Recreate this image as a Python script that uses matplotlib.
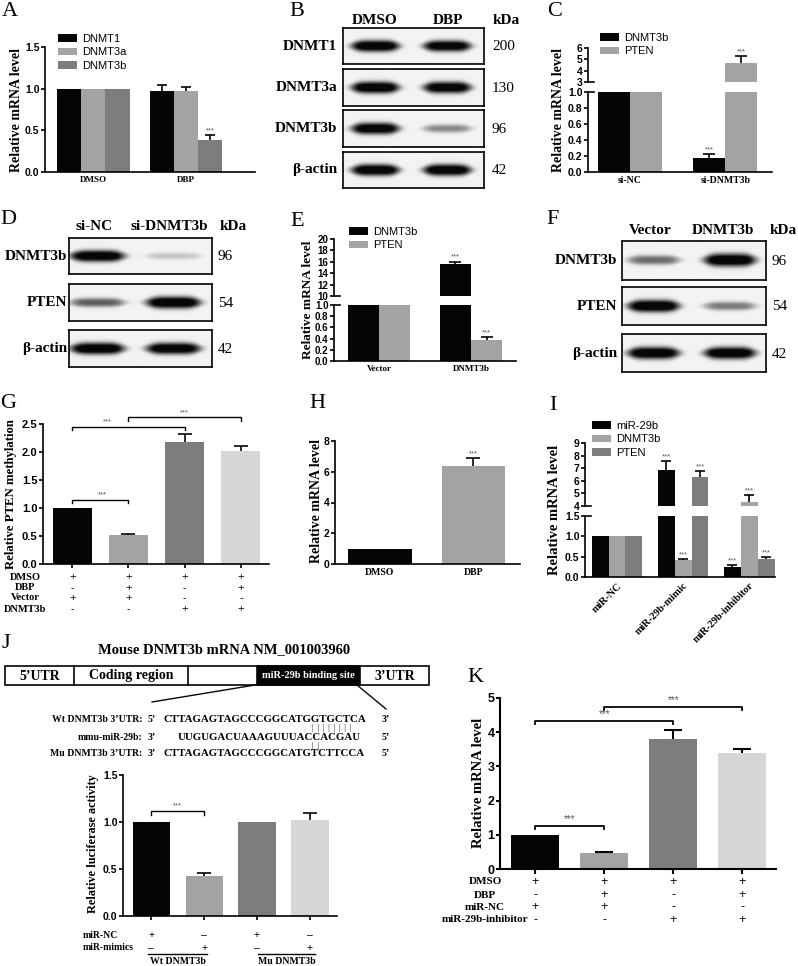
import numpy as np
import matplotlib
matplotlib.use("Agg")
import matplotlib.pyplot as plt
from matplotlib.ticker import FormatStrFormatter
from matplotlib.patches import Rectangle

SERIF = "Liberation Serif"
SANS = "Liberation Sans"
plt.rcParams["font.family"] = SANS
plt.rcParams["font.weight"] = "bold"

BLACK = "#050505"
LIGHT = "#a3a3a3"
DARK = "#7d7d7d"
PALE = "#d6d6d6"

# A - DNMT mRNA after DBP
A_groups = ["DMSO", "DBP"]
A_series = ["DNMT1", "DNMT3a", "DNMT3b"]
A_dnmt1 = [1.0, 0.97]
A_dnmt1_err = [0, 0.07]
A_dnmt3a = [1.0, 0.97]
A_dnmt3a_err = [0, 0.05]
A_dnmt3b = [1.0, 0.39]
A_dnmt3b_err = [0, 0.05]
A_dnmt3b_sig = ["", "***"]

# B - western blot, band strength per lane
B_lanes = ["DMSO", "DBP"]
B_proteins = ["DNMT1", "DNMT3a", "DNMT3b", "β-actin"]
B_kda = [200, 130, 96, 42]
B_dmso = [0.95, 0.95, 0.92, 0.95]
B_dbp = [0.9, 0.92, 0.35, 0.95]

# C - si-DNMT3b
C_groups = ["si-NC", "si-DNMT3b"]
C_series = ["DNMT3b", "PTEN"]
C_dnmt3b = [1.0, 0.17]
C_dnmt3b_err = [0, 0.05]
C_dnmt3b_sig = ["", "***"]
C_pten = [1.0, 4.7]
C_pten_err = [0, 0.6]
C_pten_sig = ["", "***"]

# D - western blot
D_lanes = ["si-NC", "si-DNMT3b"]
D_proteins = ["DNMT3b", "PTEN", "β-actin"]
D_kda = [96, 54, 42]
D_nc = [0.95, 0.5, 0.95]
D_si = [0.15, 0.97, 0.93]

# E - DNMT3b overexpression
E_groups = ["Vector", "DNMT3b"]
E_series = ["DNMT3b", "PTEN"]
E_dnmt3b = [1.0, 15.6]
E_dnmt3b_err = [0, 0.45]
E_dnmt3b_sig = ["", "***"]
E_pten = [1.0, 0.37]
E_pten_err = [0, 0.06]
E_pten_sig = ["", "***"]

# F - western blot
F_lanes = ["Vector", "DNMT3b"]
F_proteins = ["DNMT3b", "PTEN", "β-actin"]
F_kda = [96, 54, 42]
F_vec = [0.45, 0.97, 0.95]
F_dn = [0.97, 0.4, 0.95]

# G - PTEN methylation
G_vals = [1.0, 0.51, 2.17, 2.02]
G_err = [0, 0.03, 0.15, 0.08]
G_rows = ["DMSO", "DBP", "Vector", "DNMT3b"]
G_dmso = ["+", "+", "+", "+"]
G_dbp = ["-", "+", "-", "+"]
G_vector = ["+", "+", "-", "-"]
G_dnmt3b = ["-", "-", "+", "+"]
G_pairs = [(0, 1), (0, 2), (1, 3)]
G_pair_y = [1.15, 2.45, 2.62]
G_star_x = [0.53, 0.62, 2.0]

# H - miR-29b after DBP
H_groups = ["DMSO", "DBP"]
H_vals = [1.0, 6.35]
H_err = [0, 0.55]
H_sig = ["", "***"]

# I - mimic / inhibitor
I_groups = ["miR-NC", "miR-29b-mimic", "miR-29b-inhibitor"]
I_series = ["miR-29b", "DNMT3b", "PTEN"]
I_mir = [1.0, 6.85, 0.25]
I_mir_err = [0, 0.75, 0.05]
I_dnmt3b = [1.0, 0.42, 4.35]
I_dnmt3b_err = [0, 0.03, 0.55]
I_pten = [1.0, 6.3, 0.45]
I_pten_err = [0, 0.45, 0.05]
I_sig = ["", "***", "***"]

# J - luciferase
J_vals = [1.0, 0.43, 1.0, 1.02]
J_err = [0, 0.03, 0, 0.08]
J_rows = ["miR-NC", "miR-mimics"]
J_nc = ["+", "–", "+", "–"]
J_mimics = ["–", "+", "–", "+"]
J_constructs = ["Wt DNMT3b", "Mu DNMT3b"]
J_pairs = [(0, 1)]
J_pair_y = [1.12]
J_star_x = [0.5]
J_wt = "CTTAGAGTAGCCCGGCATGGTGCTCA"
J_mir = "UUGUGACUAAAGUUUACCACGAU"
J_mu = "CTTAGAGTAGCCCGGCATGTCTTCCA"

# K - rescue with inhibitor
K_vals = [1.0, 0.46, 3.8, 3.38]
K_err = [0, 0.05, 0.25, 0.13]
K_rows = ["DMSO", "DBP", "miR-NC", "miR-29b-inhibitor"]
K_dmso = ["+", "+", "+", "+"]
K_dbp = ["-", "+", "-", "+"]
K_nc = ["+", "+", "-", "-"]
K_inh = ["-", "-", "+", "+"]
K_pairs = [(0, 1), (0, 2), (1, 3)]
K_pair_y = [1.26, 4.33, 4.74]
K_star_x = [0.5, 1.0, 2.0]

W, H = 798, 966
fig = plt.figure(figsize=(W / 100, H / 100), dpi=100)
fig.patch.set_facecolor("white")


def px_axes(l, t, r, b):
    return fig.add_axes([l / W, 1 - b / H, (r - l) / W, (b - t) / H])


ov = fig.add_axes([0, 0, 1, 1], zorder=10)
ov.set_xlim(0, W)
ov.set_ylim(H, 0)
ov.axis("off")


def txt(x, y, s, size=7, family=SERIF, weight="bold", **kw):
    kw.setdefault("va", "center")
    ov.text(x, y, s, fontsize=size, family=family, fontweight=weight, **kw)


def setup(ax, ylim, ticks, fmt, size, lw=1.2, bottom=True):
    ax.set_ylim(*ylim)
    ax.set_yticks(ticks)
    ax.yaxis.set_major_formatter(FormatStrFormatter(fmt))
    ax.spines[["top", "right"]].set_visible(False)
    ax.spines["left"].set_linewidth(lw)
    ax.spines["bottom"].set_linewidth(lw)
    ax.spines["bottom"].set_visible(bottom)
    ax.tick_params(axis="y", length=3, width=lw, labelsize=size, pad=1)
    ax.patch.set_alpha(0)


def xcats(ax, labels, size, tick=0, lw=1.2, **kw):
    ax.set_xticks(range(len(labels)))
    ax.set_xticklabels(labels, family=SERIF, fontweight="bold", fontsize=size, **kw)
    ax.tick_params(axis="x", length=tick, width=lw, pad=3)


def bar_series(axs, x, vals, errs, color, width, sig=None, cap=3.5, elw=1.2, star=5.5):
    x = np.asarray(x, float)
    vals = np.asarray(vals, float)
    errs = np.asarray(errs, float)
    bc = None
    for ax in axs:
        bc = ax.bar(x, vals, width, color=color, linewidth=0, zorder=2)
        m = errs > 0
        if m.any():
            _, caps, _ = ax.errorbar(x[m], vals[m], yerr=[np.zeros(m.sum()), errs[m]],
                                     fmt="none", ecolor=BLACK, elinewidth=elw,
                                     capsize=cap, capthick=elw, zorder=3)
            for c in caps:
                if np.allclose(c.get_ydata(), vals[m]):
                    c.set_visible(False)
        if sig:
            for xi, v, e, s in zip(x, vals, errs, sig):
                if s:
                    ax.annotate(s, (xi, v + e), xytext=(0, 0.5), textcoords="offset points",
                                ha="center", va="bottom", fontsize=star, color="#555555",
                                fontweight="normal")
    return bc


def bracket(ax, i, j, y, drop, sx, lw=1.0, size=5.5):
    ax.plot([i, i, j, j], [y - drop, y, y, y - drop], color=BLACK, lw=lw, clip_on=False)
    ax.annotate("***", (sx, y), xytext=(0, 1), textcoords="offset points",
                ha="center", va="bottom", fontsize=size, color="#555555",
                fontweight="normal", annotation_clip=False)


def sign_table(ax, rows, signs, ys, label_x, size, sign_size):
    for name, row, y in zip(rows, signs, ys):
        txt(label_x, y, name, size, ha="center")
        for i, s in enumerate(row):
            ax.annotate(s, (i, 1 - y / H), xycoords=("data", "figure fraction"),
                        ha="center", va="center", fontsize=sign_size, family=SANS,
                        fontweight="normal", annotation_clip=False)


def legend(handles, labels, x, y, size=8):
    fig.legend(handles, labels, loc="upper left", bbox_to_anchor=(x / W, 1 - y / H),
               frameon=False, prop={"family": SANS, "size": size, "weight": "normal"},
               handlelength=1.7, handleheight=0.7, labelspacing=0.3,
               borderpad=0, borderaxespad=0, handletextpad=0.5)


def blot(l, t, r, b, strengths, centers, half):
    ax = px_axes(l, t, r, b)
    h, w = 50, 220
    yy, xx = np.mgrid[0:h, 0:w]
    yy = (yy + 0.5) / h
    xx = (xx + 0.5) / w
    img = np.full((h, w), 0.95)
    for s, c in zip(strengths, centers):
        pxp = np.exp(-np.abs((xx - c) / half) ** 5)
        sg = (0.08 + 0.08 * s) * (0.45 + 0.55 * pxp)
        pyp = np.exp(-np.abs((yy - 0.5) / sg) ** 2.5)
        img -= 1.2 * s * pxp * pyp
    ax.imshow(np.clip(img, 0.03, 1), cmap="gray", vmin=0, vmax=1, aspect="auto",
              extent=(0, 1, 0, 1), interpolation="bilinear")
    ax.set_xticks([])
    ax.set_yticks([])
    for sp in ax.spines.values():
        sp.set_linewidth(1.2)
    return ax


def blot_panel(l, r, tops, bots, lanes, lane_x, proteins, kda, lane_a, lane_b,
               half, label_x, kda_x, head_y, head_x, kda_head_x):
    for k in range(len(proteins)):
        blot(l, tops[k], r, bots[k], [lane_a[k], lane_b[k]], lane_x, half)
        cy = (tops[k] + bots[k]) / 2
        txt(label_x, cy, proteins[k], 11, ha="right")
        txt(kda_x, cy + 1, str(kda[k]), 11, weight="normal", ha="left")
    for name, hx in zip(lanes, head_x):
        txt(hx, head_y, name, 11, ha="center")
    txt(kda_head_x, head_y, "kDa", 11, ha="center")


# panel letters
for letter, (lx, ly) in zip("ABCDEFGHIJK", [(10, 12), (297, 11), (555, 12), (8, 220), (297, 222),
                                          (553, 220), (8, 404), (317, 403), (553, 405),
                                          (6, 644), (475, 678)]):
    txt(lx, ly, letter, 16, weight="normal", ha="center")

# ---- A
axA = px_axes(45, 47, 255, 172)
setup(axA, (0, 1.5), [0, 0.5, 1.0, 1.5], "%.1f", 7.5)
xA = np.arange(len(A_groups))
wA = 0.26
hA = []
for k, (v, e, c, s) in enumerate(zip([A_dnmt1, A_dnmt3a, A_dnmt3b],
                                    [A_dnmt1_err, A_dnmt3a_err, A_dnmt3b_err],
                                    [BLACK, LIGHT, DARK], [None, None, A_dnmt3b_sig])):
    hA.append(bar_series([axA], xA + (k - 1) * wA, v, e, c, wA, s, cap=3.5))
axA.set_xlim(-0.52, 1.74)
xcats(axA, A_groups, 6.5)
txt(17, 110, "Relative mRNA level", 10, rotation=90, ha="center")
legend(hA, A_series, 58, 34)

# ---- B
blot_panel(343, 484, [28, 69, 110, 152], [64, 106, 147, 188], B_lanes, [0.23, 0.74],
           B_proteins, B_kda, B_dmso, B_dbp, 0.17, 337, 492, 21, [375, 448], 506)

# ---- C (broken axis)
axCt = px_axes(588, 48, 772, 82)
axCb = px_axes(588, 92, 772, 172)
setup(axCt, (3, 6), [3, 4, 5, 6], "%d", 7.5, bottom=False)
setup(axCb, (0, 1), [0, 0.2, 0.4, 0.6, 0.8, 1.0], "%.1f", 7.5)
axCt.set_xticks([])
xC = np.arange(len(C_groups))
wC = 0.337
hC = []
for k, (v, e, c, s) in enumerate(zip([C_dnmt3b, C_pten], [C_dnmt3b_err, C_pten_err],
                                    [BLACK, LIGHT], [C_dnmt3b_sig, C_pten_sig])):
    hC.append(bar_series([axCt, axCb], xC + (k - 0.5) * wC, v, e, c, wC, s, cap=4.5))
for a in (axCt, axCb):
    a.set_xlim(-0.44, 1.49)
xcats(axCb, C_groups, 7)
ov.plot([588, 594], [82, 82], color=BLACK, lw=1.2)
ov.plot([588, 594], [92, 92], color=BLACK, lw=1.2)
txt(558, 110, "Relative mRNA level", 10, rotation=90, ha="center")
legend(hC, C_series, 600, 33)

# ---- D
blot_panel(69, 212, [238, 284, 330], [274, 321, 367], D_lanes, [0.2, 0.73],
           D_proteins, D_kda, D_nc, D_si, 0.19, 67, 218, 227, [94, 169], 233)

# ---- E (broken axis)
axEt = px_axes(334, 239, 516, 296)
axEb = px_axes(334, 305, 516, 361)
setup(axEt, (10, 20), [10, 12, 14, 16, 18, 20], "%d", 7, bottom=False)
setup(axEb, (0, 1), [0, 0.2, 0.4, 0.6, 0.8, 1.0], "%.1f", 7)
axEt.set_xticks([])
xE = np.arange(len(E_groups))
wE = 0.34
hE = []
for k, (v, e, c, s) in enumerate(zip([E_dnmt3b, E_pten], [E_dnmt3b_err, E_pten_err],
                                    [BLACK, LIGHT], [E_dnmt3b_sig, E_pten_sig])):
    hE.append(bar_series([axEt, axEb], xE + (k - 0.5) * wE, v, e, c, wE, s, cap=4.5))
for a in (axEt, axEb):
    a.set_xlim(-0.49, 1.49)
xcats(axEb, E_groups, 6.5)
ov.plot([334, 340], [296, 296], color=BLACK, lw=1.2)
ov.plot([334, 340], [305, 305], color=BLACK, lw=1.2)
txt(308, 300, "Relative mRNA level", 9.5, rotation=90, ha="center")
legend(hE, E_series, 349, 227)

# ---- F
blot_panel(622, 766, [241, 287, 334], [280, 325, 372], F_lanes, [0.22, 0.75],
           F_proteins, F_kda, F_vec, F_dn, 0.18, 617, 772, 230, [650, 723], 783)

# ---- G
axG = px_axes(43, 424, 269, 564)
setup(axG, (0, 2.5), [0, 0.5, 1.0, 1.5, 2.0, 2.5], "%.1f", 8)
xG = np.arange(len(G_vals))
bar_series([axG], xG, G_vals, G_err, [BLACK, LIGHT, DARK, PALE], 0.69, cap=5)
axG.set_xlim(-0.52, 3.5)
axG.set_xticks(xG)
axG.set_xticklabels([])
axG.tick_params(axis="x", length=3, width=1.2)
for (i, j), y, sx in zip(G_pairs, G_pair_y, G_star_x):
    bracket(axG, i, j, y, 0.06, sx)
sign_table(axG, G_rows, [G_dmso, G_dbp, G_vector, G_dnmt3b], [577, 588, 598, 609], 25, 7.5, 8)
txt(11, 494, "Relative PTEN methylation", 9.2, rotation=90, ha="center")

# ---- H
axH = px_axes(335, 441, 520, 564)
setup(axH, (0, 8), [0, 2, 4, 6, 8], "%d", 7.5)
xH = np.arange(len(H_groups))
bar_series([axH], xH, H_vals, H_err, [BLACK, LIGHT], 0.68, H_sig, cap=5)
axH.set_xlim(-0.48, 1.5)
xcats(axH, H_groups, 7)
txt(316, 501, "Relative mRNA level", 10, rotation=90, ha="center")

# ---- I (broken axis)
axIt = px_axes(585, 443, 775, 506)
axIb = px_axes(585, 516, 775, 577)
setup(axIt, (4, 9), [4, 5, 6, 7, 8, 9], "%d", 7.5, bottom=False)
setup(axIb, (0, 1.5), [0, 0.5, 1.0, 1.5], "%.1f", 7.5)
axIt.set_xticks([])
xI = np.arange(len(I_groups))
wI = 0.255
hI = []
for k, (v, e, c) in enumerate(zip([I_mir, I_dnmt3b, I_pten], [I_mir_err, I_dnmt3b_err, I_pten_err],
                                 [BLACK, LIGHT, DARK])):
    hI.append(bar_series([axIt, axIb], xI + (k - 1) * wI, v, e, c, wI, I_sig, cap=3.5))
for a in (axIt, axIb):
    a.set_xlim(-0.485, 2.39)
xcats(axIb, I_groups, 7.5, rotation=45, ha="right", rotation_mode="anchor")
ov.plot([585, 591], [506, 506], color=BLACK, lw=1.2)
ov.plot([585, 591], [516, 516], color=BLACK, lw=1.2)
txt(554, 510, "Relative mRNA level", 10.5, rotation=90, ha="center")
legend(hI, I_series, 592, 421)

# ---- J diagram
txt(224, 650, "Mouse DNMT3b mRNA NM_001003960", 10.5, ha="center")
ov.add_patch(Rectangle((5, 666), 424, 19, fill=False, lw=1.2, ec=BLACK))
ov.add_patch(Rectangle((257, 666), 103, 19, fc=BLACK, ec=BLACK, lw=1.2))
for xv in (74, 188):
    ov.plot([xv, xv], [666, 685], color=BLACK, lw=1.2)
txt(40, 676, "5’UTR", 10, ha="center")
txt(131, 675, "Coding region", 10, ha="center")
txt(308, 676, "miR-29b binding site", 7.5, ha="center", color="white")
txt(395, 676, "3’UTR", 10, ha="center")
ov.plot([255, 152], [685, 702], color=BLACK, lw=1.0)
ov.plot([357, 386], [685, 709], color=BLACK, lw=1.0)
for y, name, e1, seq, sx, e2 in [(719, "Wt DNMT3b 3’UTR:", "5’", J_wt, 163, "3’"),
                                 (737, "mmu-miR-29b:", "3’", J_mir, 178, "5’"),
                                 (753, "Mu DNMT3b 3’UTR:", "3’", J_mu, 163, "5’")]:
    txt(142, y, name, 7, ha="right")
    txt(148, y, e1, 7, ha="left")
    txt(sx, y, seq, 7.8, ha="left")
    txt(382, y, e2, 7, ha="left")
txt(332, 728, "|  |  |  |  |  |  |  |", 5.5, weight="normal", ha="center")
txt(315, 746, "|  |", 5.5, weight="normal", ha="center")

# ---- J bars
axJ = px_axes(123, 775, 337, 916)
setup(axJ, (0, 1.5), [0, 0.5, 1.0, 1.5], "%.1f", 7.5)
xJ = np.arange(len(J_vals))
bar_series([axJ], xJ, J_vals, J_err, [BLACK, LIGHT, DARK, PALE], 0.7, cap=5)
axJ.set_xlim(-0.53, 3.51)
axJ.set_xticks(xJ)
axJ.set_xticklabels([])
axJ.tick_params(axis="x", length=3, width=1.2)
for (i, j), y, sx in zip(J_pairs, J_pair_y, J_star_x):
    bracket(axJ, i, j, y, 0.05, sx)
for name, row, y in zip(J_rows, [J_nc, J_mimics], [935, 948]):
    txt(83, y, name, 7, ha="left")
    for i, s in enumerate(row):
        axJ.annotate(s, (i, 1 - y / H), xycoords=("data", "figure fraction"), ha="center",
                     va="center", fontsize=7.5, family=SANS, fontweight="normal",
                     annotation_clip=False)
for (x0, x1), name in zip([(148, 207), (258, 315)], J_constructs):
    ov.plot([x0, x1], [954, 954], color=BLACK, lw=1.0)
    txt((x0 + x1) / 2, 961, name, 7, ha="center")
txt(93, 844, "Relative luciferase activity", 8.8, rotation=90, ha="center")

# ---- K
axK = px_axes(500, 698, 776, 869)
setup(axK, (0, 5), [0, 1, 2, 3, 4, 5], "%d", 9, lw=1.5)
xK = np.arange(len(K_vals))
bar_series([axK], xK, K_vals, K_err, [BLACK, LIGHT, DARK, PALE], 0.7, cap=6.5, elw=1.5)
axK.set_xlim(-0.51, 3.49)
axK.set_xticks(xK)
axK.set_xticklabels([])
axK.tick_params(axis="x", length=3.5, width=1.5)
for (i, j), y, sx in zip(K_pairs, K_pair_y, K_star_x):
    bracket(axK, i, j, y, 0.1, sx, lw=1.3, size=7)
sign_table(axK, K_rows, [K_dmso, K_dbp, K_nc, K_inh], [882, 895, 907, 920], 485, 8, 9)
txt(478, 783, "Relative mRNA level", 10.5, rotation=90, ha="center")

fig.savefig("out.png", dpi=100)
